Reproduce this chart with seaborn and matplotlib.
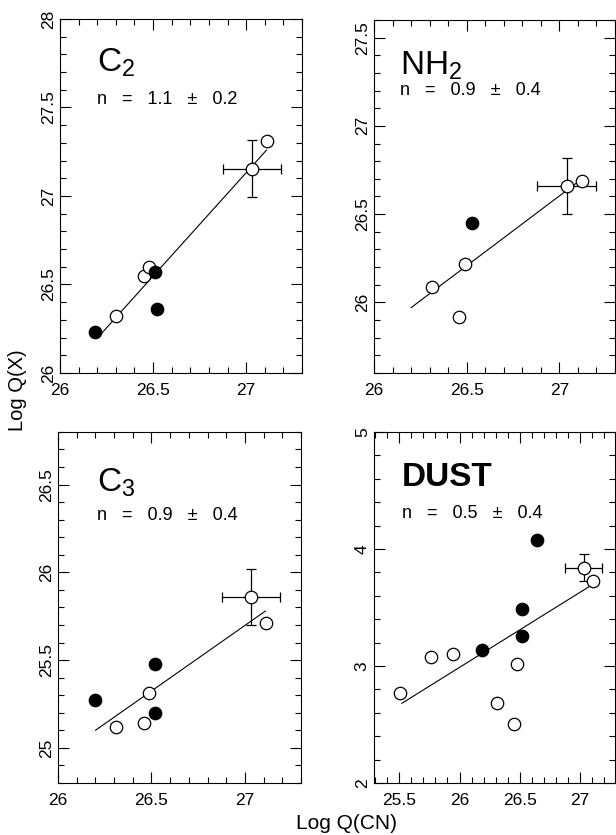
import numpy as np
import pandas as pd
import seaborn as sns
import matplotlib.pyplot as plt
from matplotlib.ticker import MultipleLocator

sns.set_style("ticks")
plt.rcParams['font.family'] = ['Liberation Sans', 'DejaVu Sans']
plt.rcParams['mathtext.default'] = 'regular'
plt.rcParams['text.color'] = 'black'
plt.rcParams['xtick.color'] = 'black'
plt.rcParams['ytick.color'] = 'black'

# --- data ---
# C2
c2_open_x = [26.30, 26.45, 26.48, 27.11]
c2_open_y = [26.32, 26.55, 26.60, 27.31]
c2_fill_x = [26.19, 26.51, 26.52]
c2_fill_y = [26.23, 26.57, 26.36]
c2_err = [27.03, 27.155, 0.155, 0.16]   # x, y, xerr, yerr
c2_fit_x = [26.22, 27.11]
c2_fit_y = [26.22, 27.26]

# NH2
nh2_open_x = [26.315, 26.46, 26.49, 27.12]
nh2_open_y = [26.09, 25.92, 26.22, 26.69]
nh2_fill_x = [26.53]
nh2_fill_y = [26.45]
nh2_err = [27.04, 26.66, 0.16, 0.16]
nh2_fit_x = [26.20, 27.11]
nh2_fit_y = [25.97, 26.69]

# C3
c3_open_x = [26.31, 26.46, 26.485, 27.11]
c3_open_y = [25.12, 25.14, 25.31, 25.71]
c3_fill_x = [26.20, 26.52, 26.52]
c3_fill_y = [25.27, 25.48, 25.20]
c3_err = [27.03, 25.86, 0.155, 0.16]
c3_fit_x = [26.20, 27.11]
c3_fit_y = [25.10, 25.78]

# DUST
dust_open_x = [25.51, 25.76, 25.95, 26.31, 26.455, 26.48, 27.11]
dust_open_y = [2.77, 3.08, 3.10, 2.68, 2.50, 3.02, 3.73]
dust_fill_x = [26.19, 26.52, 26.52, 26.64]
dust_fill_y = [3.14, 3.26, 3.49, 4.08]
dust_err = [27.03, 3.84, 0.155, 0.115]
dust_fit_x = [25.52, 27.11]
dust_fit_y = [2.68, 3.70]

names = [r"C$_2$", r"NH$_2$", r"C$_3$", "DUST"]
gap = "   "
slopes = [gap.join(["n", "=", "1.1", "\u00b1", "0.2"]),
          gap.join(["n", "=", "0.9", "\u00b1", "0.4"]),
          gap.join(["n", "=", "0.9", "\u00b1", "0.4"]),
          gap.join(["n", "=", "0.5", "\u00b1", "0.4"])]

panels = [
    (c2_open_x, c2_open_y, c2_fill_x, c2_fill_y, c2_err, c2_fit_x, c2_fit_y),
    (nh2_open_x, nh2_open_y, nh2_fill_x, nh2_fill_y, nh2_err, nh2_fit_x, nh2_fit_y),
    (c3_open_x, c3_open_y, c3_fill_x, c3_fill_y, c3_err, c3_fit_x, c3_fit_y),
    (dust_open_x, dust_open_y, dust_fill_x, dust_fill_y, dust_err, dust_fit_x, dust_fit_y),
]

# layout / axis settings
rects = [[0.0974, 0.5533, 0.3929, 0.4240],
         [0.6071, 0.5533, 0.3912, 0.4228],
         [0.0942, 0.0623, 0.3945, 0.4204],
         [0.6071, 0.0623, 0.3912, 0.4204]]
xlims = [(26, 27.3), (26, 27.3), (26, 27.3), (25.29, 27.29)]
ylims = [(26, 28), (25.6, 27.6), (24.8, 26.8), (2, 5)]
xmaj = [0.5, 0.5, 0.5, 0.5]
ymaj = [0.5, 0.5, 0.5, 1.0]
ymin = [0.1, 0.1, 0.1, 0.2]
name_pos = [(0.153, 0.85), (0.108, 0.844), (0.16, 0.83), (0.116, 0.845)]
n_pos = [(0.153, 0.76), (0.108, 0.787), (0.16, 0.749), (0.116, 0.755)]

fig = plt.figure(figsize=(6.16, 8.35), dpi=100)

for i, (ox, oy, fx, fy, err, lx, ly) in enumerate(panels):
    ax = fig.add_axes(rects[i])
    sns.lineplot(x=lx, y=ly, ax=ax, color="black", lw=0.8)
    sns.scatterplot(x=ox, y=oy, ax=ax, s=80, facecolor="white",
                    edgecolor="black", linewidth=0.9, zorder=3)
    sns.scatterplot(x=fx, y=fy, ax=ax, s=80, color="black",
                    edgecolor="black", linewidth=0.9, zorder=3)
    ax.errorbar(err[0], err[1], xerr=err[2], yerr=err[3], fmt="o",
                mfc="white", mec="black", ms=9, mew=0.9, ecolor="black",
                elinewidth=0.9, capsize=3.5, capthick=0.9, zorder=2)
    ax.set_xlim(*xlims[i])
    ax.set_ylim(*ylims[i])
    ax.xaxis.set_major_locator(MultipleLocator(xmaj[i]))
    ax.xaxis.set_minor_locator(MultipleLocator(0.1))
    ax.yaxis.set_major_locator(MultipleLocator(ymaj[i]))
    ax.yaxis.set_minor_locator(MultipleLocator(ymin[i]))
    ax.xaxis.set_major_formatter(plt.FuncFormatter(lambda v, p: f"{v:g}"))
    ax.yaxis.set_major_formatter(plt.FuncFormatter(lambda v, p: f"{v:g}"))
    ax.tick_params(which="both", direction="in", top=True, right=True,
                   width=0.8, colors="black", labelsize=12.5)
    ax.tick_params(which="major", length=8)
    ax.tick_params(which="minor", length=4.5)
    ax.tick_params(axis="x", pad=7)
    ax.tick_params(axis="y", pad=3)
    for lab in ax.get_yticklabels():
        lab.set_rotation(90)
        lab.set_va("center")
    for sp in ax.spines.values():
        sp.set_linewidth(0.8)
        sp.set_color("black")
    ax.text(name_pos[i][0], name_pos[i][1], names[i], transform=ax.transAxes,
            fontsize=24, ha="left", va="baseline",
            fontweight="bold" if names[i] == "DUST" else "normal")
    ax.text(n_pos[i][0], n_pos[i][1], slopes[i], transform=ax.transAxes,
            fontsize=13, ha="left", va="baseline")

fig.text(0.029, 0.533, "Log Q(X)", rotation=90, ha="center", va="center",
         fontsize=14.5)
fig.text(0.562, 0.002, "Log Q(CN)", ha="center", va="bottom", fontsize=15)

fig.savefig("out.png", dpi=100)
